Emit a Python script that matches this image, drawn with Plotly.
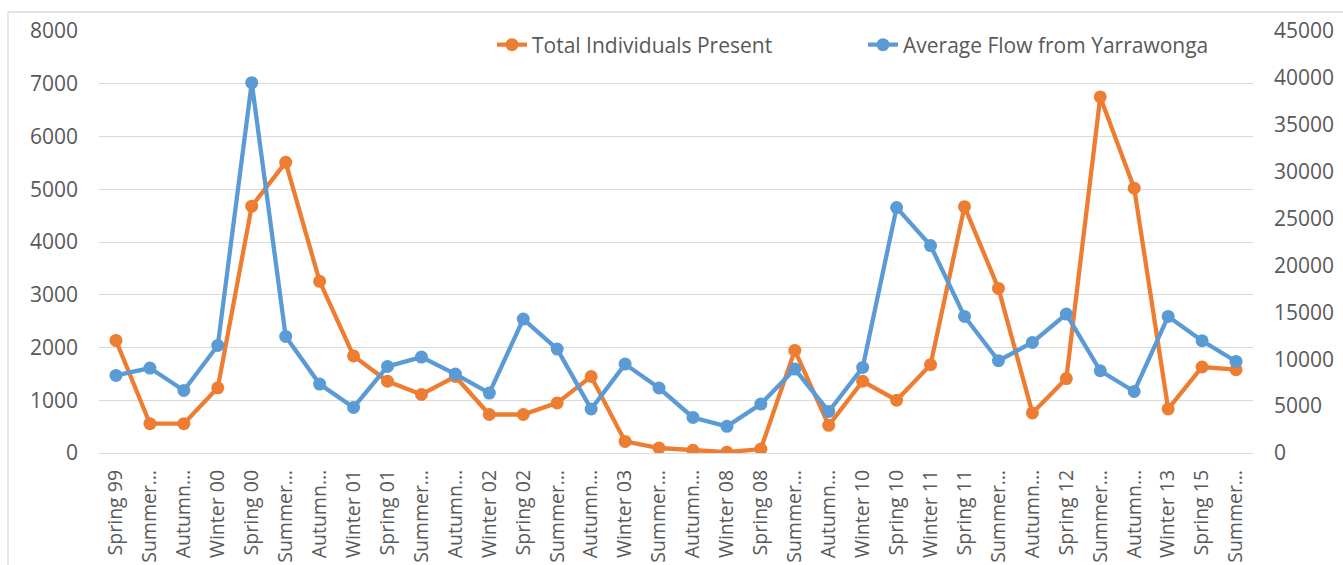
import plotly.graph_objects as go

# Category tick labels (as shown, truncated like the original)
categories = [
    "Spring 99", "Summer…", "Autumn…", "Winter 00", "Spring 00", "Summer…",
    "Autumn…", "Winter 01", "Spring 01", "Summer…", "Autumn…", "Winter 02",
    "Spring 02", "Summer…", "Autumn…", "Winter 03", "Summer…", "Autumn…",
    "Winter 08", "Spring 08", "Summer…", "Autumn…", "Winter 10", "Spring 10",
    "Winter 11", "Spring 11", "Summer…", "Autumn…", "Spring 12", "Summer…",
    "Autumn…", "Winter 13", "Spring 15", "Summer…",
]

# Total Individuals Present (left axis)
individuals = [
    2135, 555, 555, 1235, 4680, 5510, 3255, 1840, 1360, 1110,
    1450, 730, 730, 950, 1450, 220, 95, 50, 15, 75,
    1945, 525, 1360, 1000, 1675, 4670, 3120, 760, 1410, 6750,
    5020, 835, 1630, 1580,
]

# Average Flow from Yarrawonga (right axis)
flow = [
    8270, 9060, 6670, 11470, 39490, 12430, 7350, 4860, 9230, 10230,
    8420, 6390, 14280, 11080, 4690, 9480, 6930, 3790, 2840, 5220,
    8950, 4430, 9120, 26170, 22120, 14560, 9840, 11790, 14810, 8770,
    6560, 14560, 11970, 9760,
]

left_ticks = list(range(0, 8001, 1000))
right_ticks = list(range(0, 45001, 5000))

idx = list(range(len(categories)))

ORANGE = "#ED7D31"
BLUE = "#5B9BD5"
GRID = "#D9D9D9"
TXT = "#595959"
FONT = "Open Sans"

fig = go.Figure()
fig.add_trace(go.Scatter(
    x=idx, y=individuals, name="Total Individuals Present",
    mode="lines+markers", yaxis="y",
    line=dict(color=ORANGE, width=4.3),
    marker=dict(size=13, color=ORANGE),
))
fig.add_trace(go.Scatter(
    x=idx, y=flow, name="Average Flow from Yarrawonga",
    mode="lines+markers", yaxis="y2",
    line=dict(color=BLUE, width=4.3),
    marker=dict(size=13, color=BLUE),
))

W, H = 1343, 565
ml, mr, mt, mb = 99, 90, 31, 112
pw, ph = W - ml - mr, H - mt - mb

fig.update_layout(
    width=W, height=H, autosize=False,
    margin=dict(l=ml, r=mr, t=mt, b=mb, pad=0),
    paper_bgcolor="white", plot_bgcolor="white",
    font=dict(family=FONT, size=21, color=TXT),
    showlegend=True,
    legend=dict(
        orientation="h", x=(492 - ml) / pw, xanchor="left",
        y=(453 - 45) / ph, yanchor="middle",
        bgcolor="rgba(0,0,0,0)", font=dict(family=FONT, size=21, color=TXT),
        entrywidth=326, entrywidthmode="pixels",
    ),
    xaxis=dict(
        tickmode="array", tickvals=idx, ticktext=categories,
        tickangle=-90, range=[-0.5, len(categories) - 0.5],
        showgrid=False, zeroline=False,
        showline=True, linecolor=GRID, linewidth=1.3,
        ticks="", automargin=False, ticklabelstandoff=8,
        tickfont=dict(family=FONT, size=19.5, color=TXT),
    ),
    yaxis=dict(
        range=[0, 8000], tickmode="array", tickvals=left_ticks,
        showgrid=True, gridcolor=GRID, gridwidth=1.3,
        zeroline=False, showline=False, ticks="",
        automargin=False, ticklabelstandoff=20,
        tickfont=dict(family=FONT, size=21, color=TXT),
    ),
    yaxis2=dict(
        range=[0, 45000], tickmode="array", tickvals=right_ticks,
        tickformat="d",
        overlaying="y", side="right",
        showgrid=False, zeroline=False, showline=False, ticks="",
        automargin=False, ticklabelstandoff=20,
        tickfont=dict(family=FONT, size=21, color=TXT),
    ),
    shapes=[dict(
        type="rect", xref="paper", yref="paper", layer="below",
        x0=(8 - ml) / pw, x1=(W + 5 - ml) / pw,
        y0=(mt + ph - (H + 5)) / ph, y1=(mt + ph - 12) / ph,
        line=dict(color=GRID, width=1.3), fillcolor="rgba(0,0,0,0)",
    )],
)

fig.write_html(
    "out.html",
    config={"displayModeBar": False},
    post_script="document.body.style.margin='0';document.body.style.overflow='hidden';",
)
